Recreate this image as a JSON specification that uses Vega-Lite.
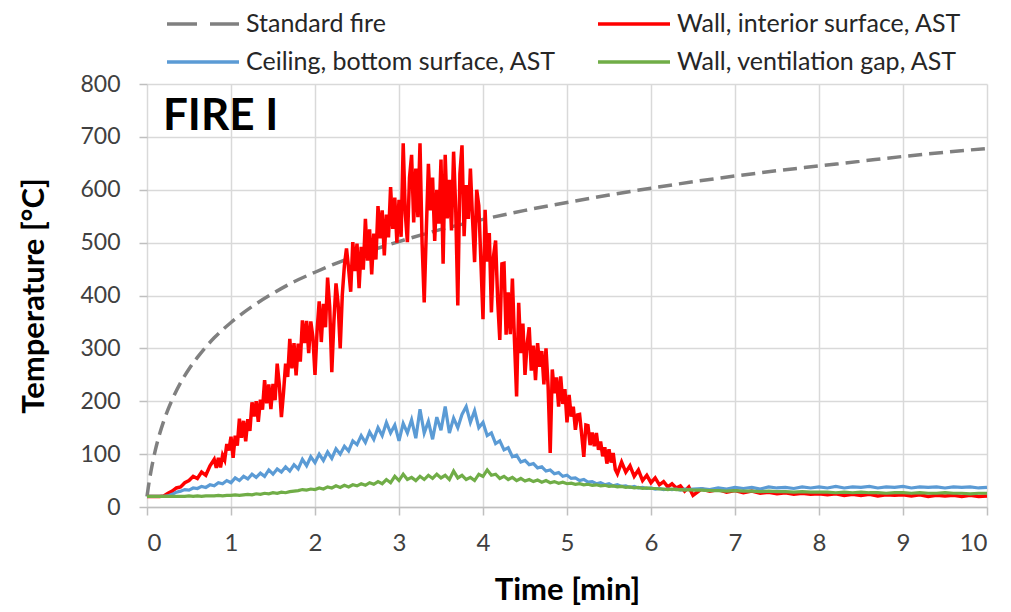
{
 "$schema": "https://vega.github.io/schema/vega-lite/v6.json",
 "width": 840, "height": 423,
 "autosize": {"type": "none"},
 "padding": {"left": 147, "top": 84, "right": 24, "bottom": 105},
 "config": {"font": "Lato", "view": {"stroke": null}, "background": "white",
  "legend": {"orient": "none", "legendX": 39, "legendY": -77, "direction": "horizontal", "columns": 2, "title": null,
   "symbolType": "M-2.4,0H2.4", "symbolSize": 900, "symbolStrokeWidth": 3.5, "labelFontSize": 25, "labelColor": "#262626", "labelOffset": 26, "columnPadding": 35, "rowPadding": 8, "labelLimit": 500}},
 "layer": [
  {
   "data": {"values": [
    {"t":0,"v":20},{"t":0.02,"v":42},{"t":0.05,"v":70},{"t":0.1,"v":108},{"t":0.15,"v":138},{"t":0.2,"v":163},{"t":0.3,"v":203},{"t":0.4,"v":235},{"t":0.5,"v":261},{"t":0.6,"v":283},{"t":0.8,"v":320},{"t":1,"v":349},{"t":1.25,"v":379},{"t":1.5,"v":404},{"t":1.75,"v":426},{"t":2,"v":444},{"t":2.5,"v":476},{"t":3,"v":502},{"t":3.5,"v":525},{"t":4,"v":544},{"t":4.5,"v":561},{"t":5,"v":576},{"t":5.5,"v":590},{"t":6,"v":603},{"t":6.5,"v":615},{"t":7,"v":626},{"t":7.5,"v":636},{"t":8,"v":645},{"t":8.5,"v":654},{"t":9,"v":663},{"t":9.5,"v":671},{"t":10,"v":678}
   ]},
   "mark": {"type": "line", "strokeDash": [14, 7], "strokeWidth": 3.5, "interpolate": "monotone"},
   "encoding": {
    "x": {"field": "t", "type": "quantitative", "scale": {"domain": [0, 10], "nice": false},
     "axis": {"title": "Time [min]", "values": [0,1,2,3,4,5,6,7,8,9,10], "format": "d", "grid": true, "gridColor": "#D9D9D9", "gridWidth": 1.5, "domainColor": "#BFBFBF", "domainWidth": 1.5, "tickColor": "#BFBFBF", "tickWidth": 1.5, "tickSize": 8, "labelFontSize": 24, "labelColor": "#404040", "labelPadding": 16, "titleFontSize": 31, "titleFontWeight": "bold", "titleColor": "#000000", "titlePadding": 20}},
    "y": {"field": "v", "type": "quantitative", "scale": {"domain": [0, 800], "nice": false},
     "axis": {"title": "Temperature [°C]", "values": [0,100,200,300,400,500,600,700,800], "grid": true, "gridColor": "#D9D9D9", "gridWidth": 1.5, "domain": false, "tickColor": "#BFBFBF", "tickWidth": 1.5, "tickSize": 8, "labelFontSize": 23, "labelColor": "#404040", "labelPadding": 19, "titleFontSize": 31, "titleFontWeight": "bold", "titleColor": "#000000", "titlePadding": 29}},
    "color": {"datum": "s", "type": "nominal",
     "scale": {"domain": ["s", "w", "c", "g"], "range": ["#808080", "#FF0000", "#5B9BD5", "#70AD47"]},
     "legend": {"title": null,
      "labelExpr": "datum.label === 's' ? 'Standard fire' : datum.label === 'w' ? 'Wall, interior surface, AST' : datum.label === 'c' ? 'Ceiling, bottom surface, AST' : 'Wall, ventilation gap, AST'",
      "encode": {"symbols": {"update": {"strokeDash": {"signal": "datum.value === 's' ? [30, 13] : [1, 0]"}}}}}}
   }
  },
  {
   "data": {"values": [
    {"t":0,"v":20},{"t":0.05,"v":20},{"t":0.1,"v":20},{"t":0.15,"v":20},{"t":0.2,"v":21},{"t":0.25,"v":26},{"t":0.3,"v":30},{"t":0.35,"v":36},{"t":0.4,"v":38},{"t":0.45,"v":46},{"t":0.5,"v":50},{"t":0.55,"v":58},{"t":0.6,"v":54},{"t":0.65,"v":66},{"t":0.7,"v":60},{"t":0.75,"v":78},
    {"t":0.8,"v":90},{"t":0.825,"v":74},{"t":0.85,"v":93},{"t":0.875,"v":75},{"t":0.9,"v":98},{"t":0.925,"v":89},{"t":0.95,"v":119},{"t":0.975,"v":107},
    {"t":1,"v":133},{"t":1.025,"v":93},{"t":1.05,"v":135},{"t":1.075,"v":116},{"t":1.1,"v":167},{"t":1.125,"v":131},{"t":1.15,"v":163},{"t":1.175,"v":124},{"t":1.2,"v":166},{"t":1.225,"v":144},{"t":1.25,"v":198},{"t":1.275,"v":171},{"t":1.3,"v":200},{"t":1.325,"v":161},{"t":1.35,"v":203},{"t":1.375,"v":184},{"t":1.4,"v":240},{"t":1.425,"v":196},{"t":1.45,"v":232},{"t":1.475,"v":185},
    {"t":1.5,"v":233},{"t":1.525,"v":202},{"t":1.55,"v":271},{"t":1.575,"v":232},{"t":1.6,"v":170},{"t":1.625,"v":216},{"t":1.65,"v":271},{"t":1.675,"v":246},{"t":1.7,"v":318},{"t":1.725,"v":262},{"t":1.75,"v":310},{"t":1.775,"v":249},{"t":1.8,"v":309},{"t":1.825,"v":275},{"t":1.85,"v":353},{"t":1.875,"v":310},{"t":1.9,"v":352},{"t":1.925,"v":291},{"t":1.95,"v":351},{"t":1.975,"v":321},
    {"t":2,"v":250},{"t":2.025,"v":334},{"t":2.05,"v":389},{"t":2.075,"v":312},{"t":2.1,"v":384},{"t":2.125,"v":340},{"t":2.15,"v":434},{"t":2.175,"v":378},{"t":2.2,"v":255},{"t":2.225,"v":351},{"t":2.25,"v":423},{"t":2.275,"v":385},{"t":2.3,"v":300},{"t":2.325,"v":401},{"t":2.35,"v":457},{"t":2.375,"v":489},{"t":2.4,"v":451},{"t":2.425,"v":407},{"t":2.45,"v":501},{"t":2.475,"v":446},
    {"t":2.5,"v":498},{"t":2.525,"v":414},{"t":2.55,"v":492},{"t":2.575,"v":449},{"t":2.6,"v":545},{"t":2.625,"v":466},{"t":2.65,"v":525},{"t":2.675,"v":440},{"t":2.7,"v":517},{"t":2.725,"v":468},{"t":2.75,"v":569},{"t":2.775,"v":508},{"t":2.8,"v":561},{"t":2.825,"v":476},{"t":2.85,"v":553},{"t":2.875,"v":510},{"t":2.9,"v":605},{"t":2.925,"v":526},{"t":2.95,"v":585},{"t":2.975,"v":500},
    {"t":3,"v":581},{"t":3.025,"v":511},{"t":3.05,"v":688},{"t":3.075,"v":555},{"t":3.1,"v":501},{"t":3.125,"v":623},{"t":3.15,"v":666},{"t":3.175,"v":538},{"t":3.2,"v":640},{"t":3.225,"v":548},{"t":3.25,"v":688},{"t":3.275,"v":499},{"t":3.3,"v":387},{"t":3.325,"v":522},{"t":3.35,"v":649},{"t":3.375,"v":561},{"t":3.4,"v":623},{"t":3.425,"v":503},{"t":3.45,"v":600},{"t":3.475,"v":536},
    {"t":3.5,"v":657},{"t":3.525,"v":460},{"t":3.55,"v":666},{"t":3.575,"v":546},{"t":3.6,"v":619},{"t":3.625,"v":523},{"t":3.65,"v":672},{"t":3.675,"v":565},{"t":3.7,"v":381},{"t":3.725,"v":630},{"t":3.75,"v":684},{"t":3.775,"v":512},{"t":3.8,"v":609},{"t":3.825,"v":545},{"t":3.85,"v":640},{"t":3.875,"v":546},{"t":3.9,"v":463},{"t":3.925,"v":600},{"t":3.95,"v":570},{"t":3.975,"v":464},
    {"t":4,"v":355},{"t":4.025,"v":562},{"t":4.05,"v":464},{"t":4.075,"v":518},{"t":4.1,"v":368},{"t":4.125,"v":474},{"t":4.15,"v":504},{"t":4.175,"v":390},{"t":4.2,"v":316},{"t":4.225,"v":460},{"t":4.25,"v":461},{"t":4.275,"v":326},{"t":4.3,"v":406},{"t":4.325,"v":327},{"t":4.35,"v":432},{"t":4.375,"v":313},{"t":4.4,"v":209},{"t":4.425,"v":386},{"t":4.45,"v":291},{"t":4.475,"v":347},
    {"t":4.5,"v":250},{"t":4.525,"v":308},{"t":4.55,"v":340},{"t":4.575,"v":258},{"t":4.6,"v":305},{"t":4.625,"v":240},{"t":4.65,"v":310},{"t":4.675,"v":265},{"t":4.7,"v":295},{"t":4.725,"v":232},{"t":4.75,"v":300},{"t":4.775,"v":228},{"t":4.8,"v":102},{"t":4.825,"v":260},{"t":4.85,"v":215},{"t":4.875,"v":245},{"t":4.9,"v":190},{"t":4.925,"v":247},{"t":4.95,"v":195},{"t":4.975,"v":223},
    {"t":5,"v":160},{"t":5.025,"v":212},{"t":5.05,"v":171},{"t":5.075,"v":190},{"t":5.1,"v":146},{"t":5.125,"v":174},{"t":5.15,"v":175},{"t":5.175,"v":137},{"t":5.2,"v":95},{"t":5.225,"v":155},{"t":5.25,"v":154},{"t":5.275,"v":117},{"t":5.3,"v":141},{"t":5.325,"v":115},{"t":5.35,"v":140},{"t":5.375,"v":108},{"t":5.4,"v":124},{"t":5.425,"v":96},{"t":5.45,"v":113},{"t":5.475,"v":82},
    {"t":5.5,"v":109},{"t":5.525,"v":84},{"t":5.55,"v":102},{"t":5.575,"v":71},{"t":5.6,"v":63},
    {"t":5.65,"v":85},{"t":5.7,"v":66},{"t":5.75,"v":78},{"t":5.8,"v":58},{"t":5.85,"v":70},{"t":5.9,"v":50},{"t":5.95,"v":60},{"t":6,"v":46},{"t":6.05,"v":55},{"t":6.1,"v":42},{"t":6.15,"v":48},{"t":6.2,"v":38},{"t":6.25,"v":44},{"t":6.3,"v":36},{"t":6.35,"v":40},{"t":6.4,"v":30},{"t":6.45,"v":38},{"t":6.5,"v":22},
    {"t":6.6,"v":34},{"t":6.7,"v":30},{"t":6.8,"v":33},{"t":6.9,"v":28},{"t":7,"v":31},{"t":7.1,"v":27},{"t":7.2,"v":30},{"t":7.3,"v":26},{"t":7.4,"v":28},{"t":7.5,"v":25},{"t":7.6,"v":27},{"t":7.7,"v":24},{"t":7.8,"v":26},{"t":7.9,"v":24},{"t":8,"v":25},{"t":8.1,"v":23},{"t":8.2,"v":25},{"t":8.3,"v":22},{"t":8.4,"v":24},{"t":8.5,"v":22},{"t":8.6,"v":24},{"t":8.7,"v":21},{"t":8.8,"v":23},{"t":8.9,"v":22},{"t":9,"v":23},{"t":9.1,"v":21},{"t":9.2,"v":23},{"t":9.3,"v":20},{"t":9.4,"v":22},{"t":9.5,"v":21},{"t":9.6,"v":22},{"t":9.7,"v":20},{"t":9.8,"v":22},{"t":9.9,"v":20},{"t":10,"v":21}
   ]},
   "mark": {"type": "line", "strokeWidth": 3.5},
   "encoding": {
    "x": {"field": "t", "type": "quantitative", "scale": {"domain": [0, 10], "nice": false}},
    "y": {"field": "v", "type": "quantitative", "scale": {"domain": [0, 800], "nice": false}},
    "color": {"datum": "w", "type": "nominal", "scale": {"domain": ["s", "w", "c", "g"], "range": ["#808080", "#FF0000", "#5B9BD5", "#70AD47"]}, "legend": {"title": null}}
   }
  },
  {
   "data": {"values": [
    {"t":0,"c":20,"g":20},{"t":0.05,"c":20,"g":20},{"t":0.1,"c":20,"g":20},{"t":0.15,"c":20,"g":20},{"t":0.2,"c":20,"g":20},{"t":0.25,"c":21,"g":20},{"t":0.3,"c":24,"g":20},{"t":0.35,"c":28,"g":20},{"t":0.4,"c":30,"g":20},{"t":0.45,"c":33,"g":20},
    {"t":0.5,"c":32,"g":21},{"t":0.55,"c":36,"g":20},{"t":0.6,"c":35,"g":21},{"t":0.65,"c":39,"g":20},{"t":0.7,"c":37,"g":21},{"t":0.75,"c":42,"g":21},{"t":0.8,"c":40,"g":21},{"t":0.85,"c":46,"g":22},{"t":0.9,"c":44,"g":21},{"t":0.95,"c":50,"g":22},
    {"t":1,"c":46,"g":22},{"t":1.05,"c":55,"g":23},{"t":1.1,"c":50,"g":22},{"t":1.15,"c":58,"g":23},{"t":1.2,"c":53,"g":24},{"t":1.25,"c":62,"g":23},{"t":1.3,"c":56,"g":25},{"t":1.35,"c":64,"g":24},{"t":1.4,"c":58,"g":26},{"t":1.45,"c":70,"g":25},
    {"t":1.5,"c":62,"g":27},{"t":1.55,"c":72,"g":26},{"t":1.6,"c":66,"g":28},{"t":1.65,"c":76,"g":27},{"t":1.7,"c":68,"g":29},{"t":1.75,"c":80,"g":30},{"t":1.8,"c":72,"g":31},{"t":1.85,"c":90,"g":33},{"t":1.9,"c":78,"g":32},{"t":1.95,"c":95,"g":34},
    {"t":2,"c":84,"g":33},{"t":2.05,"c":100,"g":36},{"t":2.1,"c":88,"g":34},{"t":2.15,"c":104,"g":38},{"t":2.2,"c":92,"g":36},{"t":2.25,"c":110,"g":40},{"t":2.3,"c":100,"g":37},{"t":2.35,"c":115,"g":41},{"t":2.4,"c":106,"g":38},{"t":2.45,"c":125,"g":42},
    {"t":2.5,"c":118,"g":40},{"t":2.55,"c":135,"g":44},{"t":2.6,"c":122,"g":41},{"t":2.65,"c":142,"g":46},{"t":2.7,"c":128,"g":43},{"t":2.75,"c":150,"g":48},{"t":2.8,"c":135,"g":44},{"t":2.85,"c":160,"g":52},{"t":2.9,"c":140,"g":46},{"t":2.95,"c":155,"g":58},
    {"t":3,"c":125,"g":50},{"t":3.05,"c":158,"g":62},{"t":3.1,"c":140,"g":52},{"t":3.15,"c":165,"g":56},{"t":3.2,"c":130,"g":50},{"t":3.25,"c":185,"g":58},{"t":3.3,"c":140,"g":52},{"t":3.35,"c":162,"g":60},{"t":3.4,"c":128,"g":54},{"t":3.45,"c":170,"g":62},
    {"t":3.5,"c":145,"g":55},{"t":3.55,"c":190,"g":60},{"t":3.6,"c":140,"g":52},{"t":3.65,"c":168,"g":68},{"t":3.7,"c":150,"g":55},{"t":3.75,"c":175,"g":60},{"t":3.8,"c":190,"g":52},{"t":3.85,"c":160,"g":56},{"t":3.9,"c":182,"g":50},{"t":3.95,"c":150,"g":62},
    {"t":4,"c":160,"g":58},{"t":4.05,"c":135,"g":70},{"t":4.1,"c":140,"g":60},{"t":4.15,"c":120,"g":62},{"t":4.2,"c":125,"g":54},{"t":4.25,"c":108,"g":58},{"t":4.3,"c":112,"g":52},{"t":4.35,"c":95,"g":56},{"t":4.4,"c":98,"g":50},{"t":4.45,"c":85,"g":54},
    {"t":4.5,"c":88,"g":49},{"t":4.55,"c":80,"g":52},{"t":4.6,"c":82,"g":48},{"t":4.65,"c":74,"g":51},{"t":4.7,"c":76,"g":47},{"t":4.75,"c":68,"g":50},{"t":4.8,"c":70,"g":46},{"t":4.85,"c":63,"g":48},{"t":4.9,"c":65,"g":45},{"t":4.95,"c":58,"g":47},
    {"t":5,"c":60,"g":44},{"t":5.05,"c":54,"g":45},{"t":5.1,"c":55,"g":43},{"t":5.15,"c":50,"g":44},{"t":5.2,"c":52,"g":42},{"t":5.25,"c":47,"g":43},{"t":5.3,"c":48,"g":41},{"t":5.35,"c":44,"g":42},{"t":5.4,"c":46,"g":40},{"t":5.45,"c":42,"g":41},
    {"t":5.5,"c":44,"g":39},{"t":5.55,"c":40,"g":40},{"t":5.6,"c":42,"g":38},{"t":5.65,"c":39,"g":39},{"t":5.7,"c":40,"g":37},{"t":5.75,"c":37,"g":38},{"t":5.8,"c":39,"g":36},{"t":5.85,"c":36,"g":37},{"t":5.9,"c":37,"g":35},{"t":5.95,"c":35,"g":36},
    {"t":6,"c":36,"g":35},{"t":6.05,"c":34,"g":35},{"t":6.1,"c":35,"g":34},{"t":6.15,"c":33,"g":34},{"t":6.2,"c":34,"g":33},{"t":6.25,"c":33,"g":34},{"t":6.3,"c":34,"g":33},{"t":6.35,"c":32,"g":33},{"t":6.4,"c":34,"g":32},{"t":6.45,"c":33,"g":33},
    {"t":6.5,"c":34,"g":32},{"t":6.6,"c":35,"g":32},{"t":6.7,"c":33,"g":31},{"t":6.8,"c":36,"g":31},{"t":6.9,"c":34,"g":30},{"t":7,"c":37,"g":31},{"t":7.1,"c":35,"g":30},{"t":7.2,"c":37,"g":30},{"t":7.3,"c":34,"g":29},{"t":7.4,"c":38,"g":30},
    {"t":7.5,"c":36,"g":29},{"t":7.6,"c":37,"g":29},{"t":7.7,"c":35,"g":28},{"t":7.8,"c":38,"g":29},{"t":7.9,"c":36,"g":28},{"t":8,"c":38,"g":28},{"t":8.1,"c":36,"g":28},{"t":8.2,"c":39,"g":27},{"t":8.3,"c":36,"g":28},{"t":8.4,"c":38,"g":27},
    {"t":8.5,"c":37,"g":28},{"t":8.6,"c":39,"g":27},{"t":8.7,"c":36,"g":27},{"t":8.8,"c":38,"g":26},{"t":8.9,"c":37,"g":27},{"t":9,"c":39,"g":27},{"t":9.1,"c":36,"g":26},{"t":9.2,"c":38,"g":27},{"t":9.3,"c":37,"g":26},{"t":9.4,"c":38,"g":26},
    {"t":9.5,"c":36,"g":27},{"t":9.6,"c":38,"g":26},{"t":9.7,"c":37,"g":26},{"t":9.8,"c":38,"g":25},{"t":9.9,"c":36,"g":26},{"t":10,"c":37,"g":26}
   ]},
   "transform": [{"fold": ["c", "g"], "as": ["k", "v"]}],
   "mark": {"type": "line", "strokeWidth": 3.2},
   "encoding": {
    "x": {"field": "t", "type": "quantitative", "scale": {"domain": [0, 10], "nice": false}},
    "y": {"field": "v", "type": "quantitative", "scale": {"domain": [0, 800], "nice": false}},
    "color": {"field": "k", "type": "nominal", "scale": {"domain": ["s", "w", "c", "g"], "range": ["#808080", "#FF0000", "#5B9BD5", "#70AD47"]}, "legend": {"title": null}}
   }
  },
  {
   "data": {"values": [{"t": 0.19, "v": 737, "label": "FIRE I"}]},
   "mark": {"type": "text", "align": "left", "baseline": "middle", "fontSize": 44, "fontWeight": "bold", "color": "#000000"},
   "encoding": {
    "x": {"field": "t", "type": "quantitative"},
    "y": {"field": "v", "type": "quantitative"},
    "text": {"field": "label"}
   }
  }
 ]
}
